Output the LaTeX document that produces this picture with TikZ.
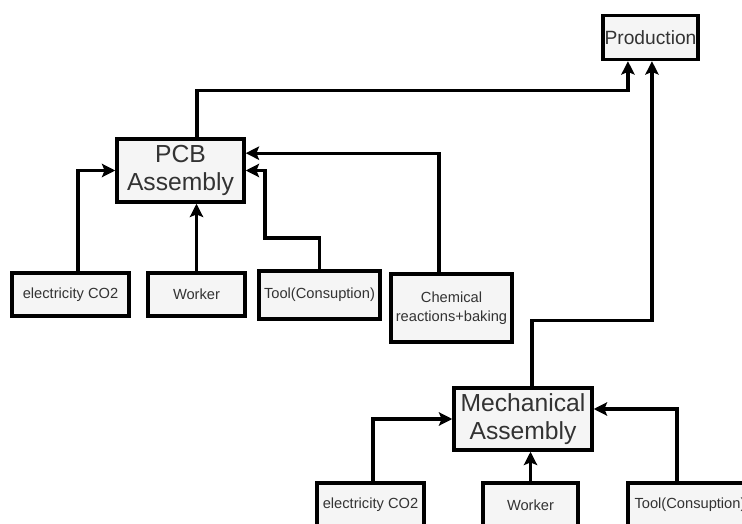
\documentclass[tikz,border=0pt]{standalone}
\usepackage{fontspec}
\setmainfont{Liberation Sans}
\usetikzlibrary{arrows.meta,calc}
\definecolor{boxfill}{HTML}{F5F5F5}
\definecolor{boxtext}{HTML}{333333}
\begin{document}
\begin{tikzpicture}[x=0.75pt,y=-0.75pt,
  box/.style={draw=black,line width=2.6pt,fill=boxfill,text=boxtext,align=center,inner sep=1pt},
  bigbox/.style={box,font=\fontsize{18.5}{21}\selectfont},
  smallbox/.style={box,font=\fontsize{11}{14}\selectfont},
  arr/.style={draw=black,line width=2.4pt,-{Stealth[length=10pt,width=10pt,inset=2pt]}}]
\useasboundingbox (0,0) rectangle (742,524);
\clip (0,0) rectangle (742,524);
% production and the two assemblies
\node[box,font=\fontsize{14.4}{17}\selectfont,minimum width=71.25pt,minimum height=33pt] (prod) at (650.5,37.5) {Production};
\node[bigbox,minimum width=95.25pt,minimum height=47.25pt] (pcb) at (180.5,170.5) {PCB\\Assembly};
\node[bigbox,minimum width=103.5pt,minimum height=46.5pt] (mech) at (523,419) {Mechanical\\Assembly};
% inputs of the PCB assembly
\node[smallbox,minimum width=87.75pt,minimum height=32.25pt] (elecA) at (70.5,294.5) {electricity CO2};
\node[smallbox,minimum width=72.75pt,minimum height=32.25pt] (workA) at (196.5,294.5) {Worker};
\node[smallbox,minimum width=90.75pt,minimum height=36pt] (toolA) at (319.5,295) {Tool(Consuption)};
\node[smallbox,minimum width=90.75pt,minimum height=51pt] (chem) at (451.5,308) {Chemical\\reactions+baking};
% inputs of the mechanical assembly
\node[smallbox,minimum width=80.25pt,minimum height=33pt] (elecB) at (370.5,505) {electricity CO2};
\node[smallbox,minimum width=71.25pt,minimum height=33pt] (workB) at (530.5,505) {Worker};
\node[smallbox,minimum width=93pt,minimum height=33pt] (toolB) at (690,505) {Tool(Consuption)};
% assemblies feed production
\draw[arr] ([xshift=12.4pt]pcb.north) -- ++(0,-47) -| ([xshift=-16.9pt]prod.south);
\draw[arr] ([xshift=6.75pt]mech.north) -- ++(0,-66) -| ([xshift=1.1pt]prod.south);
% PCB inputs
\draw[arr] ([xshift=5.6pt]elecA.north) |- (pcb.west);
\draw[arr] (workA.north) -- (workA.north |- pcb.south);
\coordinate (bend) at (265,238);
\draw[arr] (toolA.north) |- (bend) |- (pcb.east);
\draw[arr] ([xshift=-9.4pt]chem.north) |- ([yshift=13pt]pcb.east);
% mechanical inputs
\draw[arr] ([xshift=1.9pt]elecB.north) |- (mech.west);
\draw[arr] (workB.north) -- (workB.north |- mech.south);
\draw[arr] ([xshift=-9.75pt]toolB.north) |- ([yshift=7.5pt]mech.east);
\end{tikzpicture}
\end{document}
